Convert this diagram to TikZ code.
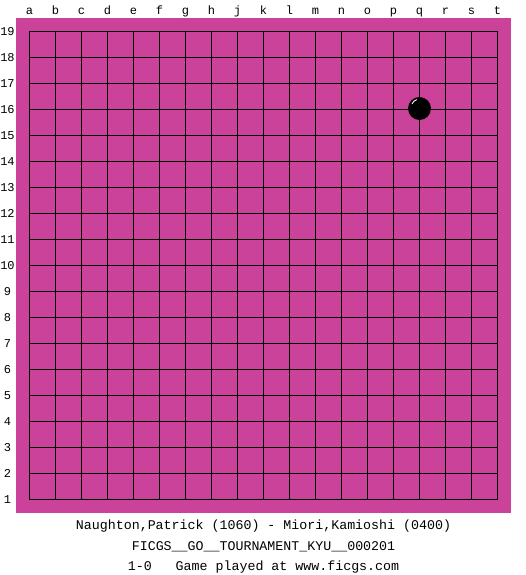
\documentclass[tikz,border=0pt]{standalone}
\usepackage{fontspec}
\setmonofont{Liberation Mono}
\definecolor{boardc}{RGB}{202,66,154}
\begin{document}
\begin{tikzpicture}[x=1pt,y=-1pt,
  lbl/.style={font=\ttfamily\fontsize{12}{12}\selectfont, inner sep=0pt, text=black},
  info/.style={font=\ttfamily\fontsize{13.3}{14}\selectfont, inner sep=0pt, text=black},
  gridline/.style={black, line width=1pt}]
\useasboundingbox (0,0) rectangle (525,575);
\fill[white] (0,0) rectangle (525,575);
\fill[boardc] (16,18) rectangle (511,513);
\foreach \i in {0,...,18} {
  \draw[gridline] (29.5+26*\i,31.5) -- (29.5+26*\i,499.5);
  \draw[gridline] (29.5,31.5+26*\i) -- (497.5,31.5+26*\i);
}
\foreach \l [count=\i from 0] in {a,b,c,d,e,f,g,h,j,k,l,m,n,o,p,q,r,s,t} {
  \node[lbl, anchor=base] (col\l) at (29.5+26*\i,15) {\l};
}
\foreach \i in {1,...,19} {
  \node[lbl, anchor=base] (row\i) at (7.5,{499.5-26*(\i-1)+4}) {\i};
}
\fill[black] (419.5,108.5) circle (11.5);
\draw[white, line width=0.9pt] (412,104) arc (200:255:7);
\node[info, anchor=base] (players) at (263.5,529) {Naughton,Patrick (1060) - Miori,Kamioshi (0400)};
\node[info, anchor=base] (event) at (263.5,550) {FICGS\_\_GO\_\_TOURNAMENT\_KYU\_\_000201};
\node[info, anchor=base] (result) at (263.5,570) {1-0\ \ \ Game played at www.ficgs.com};
\end{tikzpicture}
\end{document}
